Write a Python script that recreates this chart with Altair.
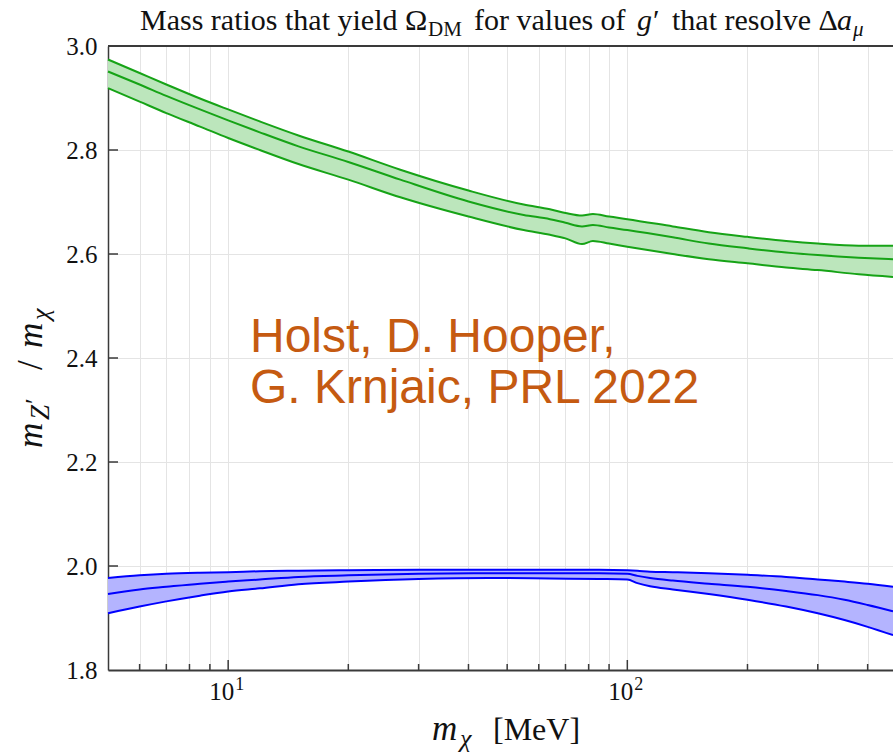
import altair as alt
import pandas as pd

# Dark-matter mass grid [MeV] and mass-ratio bands (lower / central / upper)
mass_green = [5, 6, 7, 8.5, 10, 12, 15, 20, 27, 40, 55, 64, 70, 77, 82, 90, 100,
              130, 160, 200, 250, 300, 380, 463]
green_high = [2.974, 2.948, 2.926, 2.899, 2.878, 2.855, 2.828, 2.797, 2.762, 2.722, 2.695,
              2.686, 2.679, 2.674, 2.677, 2.672, 2.667, 2.653, 2.642, 2.633, 2.625,
              2.620, 2.616, 2.616]
green_mid = [2.951, 2.926, 2.904, 2.878, 2.857, 2.834, 2.807, 2.777, 2.743, 2.701, 2.675,
             2.667, 2.660, 2.653, 2.656, 2.651, 2.646, 2.632, 2.620, 2.611, 2.603,
             2.598, 2.593, 2.590]
green_low = [2.919, 2.893, 2.871, 2.845, 2.823, 2.800, 2.773, 2.743, 2.709, 2.672, 2.646,
             2.637, 2.630, 2.619, 2.625, 2.620, 2.614, 2.600, 2.590, 2.582, 2.574,
             2.569, 2.561, 2.556]

mass_blue = [5, 6, 7, 8.5, 10, 12, 15, 20, 30, 45, 64, 85, 100, 106, 114, 130, 160, 200,
             250, 300, 350, 400, 463]
blue_high = [1.977, 1.982, 1.985, 1.987, 1.988, 1.990, 1.991, 1.992, 1.993, 1.993, 1.993,
             1.993, 1.992, 1.991, 1.989, 1.988, 1.986, 1.983, 1.979, 1.974, 1.970, 1.966,
             1.960]
blue_mid = [1.946, 1.955, 1.960, 1.966, 1.970, 1.974, 1.979, 1.982, 1.985, 1.986, 1.986,
            1.986, 1.985, 1.981, 1.977, 1.972, 1.966, 1.960, 1.952, 1.944, 1.935, 1.925,
            1.913]
blue_low = [1.909, 1.922, 1.932, 1.943, 1.951, 1.957, 1.965, 1.970, 1.975, 1.977, 1.976,
            1.975, 1.974, 1.967, 1.961, 1.955, 1.946, 1.935, 1.922, 1.909, 1.896, 1.883,
            1.867]

x_major = [10, 100]
x_major_exp = ["1", "2"]
x_minor = [6, 7, 8, 9, 20, 30, 40, 50, 60, 70, 80, 90, 200, 300, 400]
y_ticks = [1.8, 2.0, 2.2, 2.4, 2.6, 2.8, 3.0]

W, H = 785, 624
SERIF = "Liberation Serif"
GREEN_LINE, GREEN_FILL = "#16a316", "#bce6bc"
BLUE_LINE, BLUE_FILL = "#0000ff", "#b4b4ff"
AXIS_COLOR = "#3a3a3a"
TEXT_COLOR = "#111111"

bands = pd.concat([
    pd.DataFrame({"mass": mass_green, "low": green_low, "mid": green_mid,
                  "high": green_high, "band": "green"}),
    pd.DataFrame({"mass": mass_blue, "low": blue_low, "mid": blue_mid,
                  "high": blue_high, "band": "blue"}),
])
lines = bands.melt(id_vars=["mass", "band"], value_vars=["low", "mid", "high"],
                   var_name="curve", value_name="ratio")
lines["key"] = lines["band"] + "_" + lines["curve"]

xs = alt.Scale(type="log", domain=[5, 463], nice=False)
ys = alt.Scale(domain=[1.8, 3.0], nice=False, zero=False)
band_colors = alt.Scale(domain=["green", "blue"], range=[GREEN_LINE, BLUE_LINE])
fill_colors = alt.Scale(domain=["green", "blue"], range=[GREEN_FILL, BLUE_FILL])

x_axis = alt.Axis(values=sorted(x_major + x_minor), ticks=False, domain=True,
                  domainColor=AXIS_COLOR, domainWidth=2, grid=True,
                  gridColor="#e4e4e4", gridWidth=1, title=None, labels=False)
y_axis = alt.Axis(values=y_ticks, format=".1f", ticks=False, domain=True,
                  domainColor=AXIS_COLOR, domainWidth=1.5, grid=True,
                  gridColor="#e4e4e4", gridWidth=1, title=None,
                  labelFont=SERIF, labelFontSize=25, labelColor=TEXT_COLOR,
                  labelPadding=11)

area = alt.Chart(bands).mark_area(interpolate="monotone").encode(
    x=alt.X("mass:Q", scale=xs, axis=x_axis),
    y=alt.Y("low:Q", scale=ys, axis=y_axis),
    y2="high:Q",
    fill=alt.Fill("band:N", scale=fill_colors, legend=None),
    detail="band:N",
)

curves = alt.Chart(lines).mark_line(interpolate="monotone", strokeWidth=2).encode(
    x=alt.X("mass:Q", scale=xs),
    y=alt.Y("ratio:Q", scale=ys),
    color=alt.Color("band:N", scale=band_colors, legend=None),
    detail="key:N",
)

# inward-pointing tick marks
major_df = pd.DataFrame({"mass": x_major, "exp": x_major_exp})
minor_df = pd.DataFrame({"mass": x_minor})
ytick_df = pd.DataFrame({"ratio": y_ticks[1:-1]})
tick_style = dict(color=AXIS_COLOR, strokeWidth=1.5)
major_ticks = alt.Chart(major_df).mark_rule(**tick_style).encode(
    x=alt.X("mass:Q", scale=xs), y=alt.value(H), y2=alt.value(H - 10))
minor_ticks = alt.Chart(minor_df).mark_rule(**tick_style).encode(
    x=alt.X("mass:Q", scale=xs), y=alt.value(H), y2=alt.value(H - 6))
y_tick_marks = alt.Chart(ytick_df).mark_rule(**tick_style).encode(
    y=alt.Y("ratio:Q", scale=ys), x=alt.value(0), x2=alt.value(10))
top_border = alt.Chart(major_df.head(1)).mark_rule(color=AXIS_COLOR, strokeWidth=2).encode(
    x=alt.value(0), x2=alt.value(W), y=alt.value(0))

# decade labels 10^1, 10^2
decade_base = alt.Chart(major_df).mark_text(
    text="10", font=SERIF, fontSize=25, align="right", baseline="alphabetic",
    dx=6, color=TEXT_COLOR,
).encode(x=alt.X("mass:Q", scale=xs), y=alt.value(H + 30))
decade_exp = alt.Chart(major_df).mark_text(
    font=SERIF, fontSize=18, align="left", baseline="alphabetic",
    dx=7, color=TEXT_COLOR,
).encode(x=alt.X("mass:Q", scale=xs), y=alt.value(H + 20), text="exp:N")


def text_piece(txt, x, y, size, style="normal", angle=0, color=TEXT_COLOR, font=SERIF):
    return alt.Chart(major_df.head(1)).mark_text(
        text=txt, font=font, fontSize=size, fontStyle=style,
        align="left", baseline="alphabetic", angle=angle, color=color,
    ).encode(x=alt.value(x), y=alt.value(y))


# title: Mass ratios that yield Ω_DM for values of g′ that resolve Δa_μ
TY = -16
TS, SS = 30, 21
title_parts = [
    text_piece("Mass ratios that yield Ω", 32, TY, TS),
    text_piece("DM", 320, TY + 6, SS),
    text_piece("for values of", 366, TY, TS),
    text_piece("g", 529, TY, TS, "italic"),
    text_piece("′", 545, TY, TS),
    text_piece("that resolve Δ", 564, TY, TS),
    text_piece("a", 729, TY, TS, "italic"),
    text_piece("μ", 745, TY + 6, SS, "italic"),
]

# x-axis title: m_χ [MeV]
XY = H + 70
xlabel_parts = [
    text_piece("m", 324, XY, 35, "italic"),
    text_piece("χ", 352, XY + 7, 26, "italic"),
    text_piece("[MeV]", 385, XY, 32),
]

# y-axis title: m_Z′/m_χ (rotated, reading upward)
YX = -66
ylabel_parts = [
    text_piece("m", YX, 402, 35, "italic", angle=270),
    text_piece("Z", YX + 7, 374, 27, "italic", angle=270),
    text_piece("′", YX + 1, 358, 26, angle=270),
    text_piece("/", YX, 324, 35, angle=270),
    text_piece("m", YX, 302, 35, "italic", angle=270),
    text_piece("χ", YX + 7, 274, 26, "italic", angle=270),
]

ORANGE = "#c55a11"
note = [
    text_piece("Holst, D. Hooper,", 142, 306, 48, color=ORANGE, font="Liberation Sans"),
    text_piece("G. Krnjaic, PRL 2022", 142, 357, 48, color=ORANGE, font="Liberation Sans"),
]

chart = alt.layer(
    area, curves, major_ticks, minor_ticks, y_tick_marks, top_border,
    decade_base, decade_exp,
    *title_parts, *xlabel_parts, *ylabel_parts, *note,
).properties(
    width=W, height=H,
    autosize=alt.AutoSizeParams(type="none"),
    padding={"left": 108, "top": 46, "right": 0, "bottom": 82},
).configure_view(strokeWidth=0).configure(background="white")

chart.save("out.html", embed_options={"renderer": "svg", "actions": False})
